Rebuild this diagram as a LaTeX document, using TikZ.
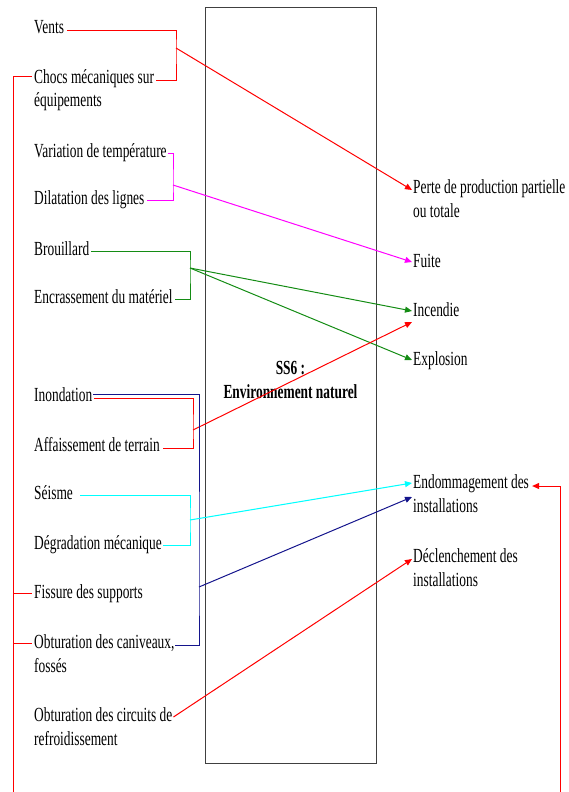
\documentclass[tikz,border=0pt]{standalone}
\usepackage{fontspec}
\setmainfont{Liberation Serif}
\usepackage{graphicx}
\usetikzlibrary{arrows.meta}
\definecolor{cRed}{RGB}{255,0,0}
\definecolor{cMag}{RGB}{255,0,255}
\definecolor{cGreen}{RGB}{20,140,20}
\definecolor{cNavy}{RGB}{20,20,140}
\definecolor{cCyan}{RGB}{0,255,255}
\newcommand{\sq}[2][l]{\scalebox{0.67}[1]{\begin{tabular}[t]{@{}#1@{}}#2\end{tabular}}}

\begin{document}
\begin{tikzpicture}[x=1pt,y=-1pt,
  lbl/.style={anchor=base west,inner sep=0pt,font=\fontsize{20}{24}\selectfont},
  wire/.style={line width=1pt},
  tip/.style={-{Triangle[length=7pt,width=6pt]}}]
\useasboundingbox (0,0) rectangle (569,792);
\node[draw=black!75,line width=1pt,minimum width=171pt,minimum height=755pt,inner sep=0pt] (ss6) at (290.5,385.5) {};
\node[font=\fontsize{20}{24}\selectfont\bfseries,inner sep=0pt] (titre) at ([yshift=4pt]ss6.center) {\sq[c]{SS6 :\\Environnement naturel}};

\node[lbl] (vents) at (34,34) {\sq{Vents}};
\node[lbl] (chocs) at (34,83) {\sq{Chocs mécaniques sur\\équipements}};
\node[lbl] (variation) at (34,157) {\sq{Variation de température}};
\node[lbl] (dilatation) at (34,204) {\sq{Dilatation des lignes}};
\node[lbl] (brouillard) at (34,255) {\sq{Brouillard}};
\node[lbl] (encrass) at (34,303) {\sq{Encrassement du matériel}};
\node[lbl] (inondation) at (34,401) {\sq{Inondation}};
\node[lbl] (affaiss) at (34,451) {\sq{Affaissement de terrain}};
\node[lbl] (seisme) at (34,499) {\sq{Séisme}};
\node[lbl] (degrad) at (34,549) {\sq{Dégradation mécanique}};
\node[lbl] (fissure) at (34,598) {\sq{Fissure des supports}};
\node[lbl] (caniv) at (34,648) {\sq{Obturation des caniveaux,\\fossés}};
\node[lbl] (circuits) at (34,721) {\sq{Obturation des circuits de\\refroidissement}};

\node[lbl] (perte) at (413,193) {\sq{Perte de production partielle\\ou totale}};
\node[lbl] (fuite) at (413,267) {\sq{Fuite}};
\node[lbl] (incendie) at (413,316) {\sq{Incendie}};
\node[lbl] (explosion) at (413,365) {\sq{Explosion}};
\node[lbl] (endo) at (413,488) {\sq{Endommagement des\\installations}};
\node[lbl] (declen) at (413,562) {\sq{Déclenchement des\\installations}};

\coordinate (jVent) at (176,48);
\coordinate (jTemp) at (173,185);
\coordinate (jBrou) at (190,268);
\coordinate (jTerr) at (193,430);
\coordinate (jInon) at (199,587);
\coordinate (jSeis) at (190,520);
\coordinate (busL) at (13,792);
\coordinate (busR) at (560,792);

\draw[wire,cRed] ([xshift=3pt,yshift=3pt]vents.base east) -| (jVent) |- ([xshift=2pt,yshift=3pt]chocs.base east);
\draw[wire,cRed,tip] (jVent) -- ([xshift=-1pt,yshift=3pt]perte.base west);

\draw[wire,cMag] ([xshift=1pt,yshift=4pt]variation.base east) -| (jTemp) |- ([xshift=2pt,yshift=4pt]dilatation.base east);
\draw[wire,cMag,tip] (jTemp) -- ([xshift=-1pt,yshift=5pt]fuite.base west);

\draw[wire,cGreen] ([xshift=2pt,yshift=4pt]brouillard.base east) -| (jBrou) |- ([xshift=2pt,yshift=4pt]encrass.base east);
\draw[wire,cGreen,tip] (jBrou) -- ([xshift=-1pt,yshift=5pt]incendie.base west);
\draw[wire,cGreen,tip] (jBrou) -- ([xshift=-1pt,yshift=5pt]explosion.base west);

\draw[wire,cRed] ([xshift=2pt,yshift=3pt]inondation.base east) -| (jTerr) |- ([xshift=3pt,yshift=3pt]affaiss.base east);
\draw[wire,cRed,tip] (jTerr) -- ([xshift=-1pt,yshift=-6pt]incendie.base west);

\draw[wire,cNavy] ([xshift=1pt,yshift=7pt]inondation.base east) -| (jInon) |- ([yshift=3pt]caniv.base east);
\draw[wire,cNavy,tip] (jInon) -- ([xshift=-1pt,yshift=-9pt]endo.base west);

\draw[wire,cCyan] ([xshift=7pt,yshift=4pt]seisme.base east) -| (jSeis) |- ([xshift=1pt,yshift=4pt]degrad.base east);
\draw[wire,cCyan,tip] (jSeis) -- ([xshift=-1pt,yshift=5pt]endo.base west);

\draw[wire,cRed,tip] ([xshift=1pt,yshift=4pt]circuits.base east) -- ([xshift=-1pt,yshift=3pt]declen.base west);

\foreach \n/\s in {chocs/7pt,fissure/5pt,caniv/5pt}
  \draw[wire,cRed] (busL) |- ([xshift=-2pt,yshift=\s]\n.base west);
\draw[wire,cRed,tip] (busR) |- ([xshift=3pt,yshift=2pt]endo.base east);
\end{tikzpicture}
\end{document}
